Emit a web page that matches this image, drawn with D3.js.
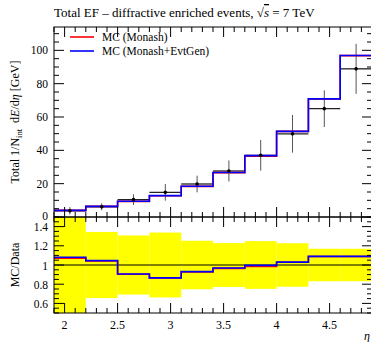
<!DOCTYPE html>
<html>
<head>
<meta charset="utf-8">
<script src="https://cdn.jsdelivr.net/npm/d3@7"></script>
<style>
  body { margin: 0; background: #fff; }
  svg text { font-family: "Liberation Serif", "DejaVu Serif", serif; fill: #000; }
</style>
</head>
<body>
<svg width="371" height="342"></svg>
<script>
// bin edges in eta
var edges = [1.9, 2.2, 2.5, 2.8, 3.1, 3.4, 3.7, 4.0, 4.3, 4.6, 4.9];
// data points and their total error
var dataVals = [3.7, 6.1, 10.4, 14.8, 19.8, 27.6, 37.0, 49.9, 65.0, 88.9];
var dataErr = [2.2, 2.1, 3.2, 5.0, 5.0, 6.3, 9.2, 11.3, 11.0, 15.0];
// MC predictions
var monash = [3.96, 6.36, 9.40, 12.79, 18.39, 26.63, 36.48, 51.35, 70.8, 96.8];
var evtgen = [4.00, 6.38, 9.42, 12.82, 18.43, 26.72, 36.85, 51.40, 70.85, 96.9];

var xTicks = [2, 2.5, 3, 3.5, 4, 4.5];
var yTicks = [0, 20, 40, 60, 80, 100];
var rTicks = [0.6, 0.8, 1, 1.2, 1.4];

var left = 54, right = 372, topY = 27, mid = 217, bottom = 313;

var svg = d3.select('svg');

var x = d3.scaleLinear().domain([1.9, 4.9]).range([left, right]);
var y = d3.scaleLinear().domain([0, 114]).range([mid, topY]);
var r = d3.scaleLinear().domain([0.5, 1.5]).range([bottom, mid]);

svg.append('clipPath').attr('id', 'clipMain')
  .append('rect').attr('x', left).attr('y', topY).attr('width', right - left).attr('height', mid - topY);
svg.append('clipPath').attr('id', 'clipRatio')
  .append('rect').attr('x', left).attr('y', mid).attr('width', right - left).attr('height', bottom - mid);

var bins = dataVals.map((d, i) => ({
  lo: edges[i], hi: edges[i + 1], mid: (edges[i] + edges[i + 1]) / 2,
  val: d, err: dataErr[i], a: monash[i], b: evtgen[i]
}));

//step line through bins
function stepLine(vals, sc) {
  var pts = [];
  vals.forEach((v, i) => {
    pts.push([x(edges[i]), sc(v)]);
    pts.push([x(edges[i + 1]), sc(v)]);
  });
  return d3.line()(pts);
}

// ----- ratio panel -----
var rg = svg.append('g').attr('clip-path', 'url(#clipRatio)');
rg.selectAll('.band')
  .data(bins)
  .enter().append('rect')
    .attr('x', d => x(d.lo))
    .attr('width', d => x(d.hi) - x(d.lo))
    .attr('y', d => r(1 + d.err / d.val))
    .attr('height', d => r(1 - d.err / d.val) - r(1 + d.err / d.val))
    .attr('fill', '#ffff00');
rg.append('line')
  .attr('x1', left).attr('x2', right)
  .attr('y1', r(1)).attr('y2', r(1))
  .attr('stroke', 'black').attr('stroke-width', 1);
rg.append('path')
  .attr('d', stepLine(bins.map(d => d.a / d.val), r))
  .attr('fill', 'none').attr('stroke', '#ff0000').attr('stroke-width', 1.6);
rg.append('path')
  .attr('d', stepLine(bins.map(d => d.b / d.val), r))
  .attr('fill', 'none').attr('stroke', '#0000ff').attr('stroke-width', 1.6);

// ----- main panel -----
var mg = svg.append('g').attr('clip-path', 'url(#clipMain)');
mg.selectAll('.xerr')
  .data(bins)
  .enter().append('line')
    .attr('x1', d => x(d.lo)).attr('x2', d => x(d.hi))
    .attr('y1', d => y(d.val)).attr('y2', d => y(d.val))
    .attr('stroke', '#222').attr('stroke-width', 1.3);
mg.selectAll('.yerr')
  .data(bins)
  .enter().append('line')
    .attr('x1', d => x(d.mid)).attr('x2', d => x(d.mid))
    .attr('y1', d => y(d.val - d.err)).attr('y2', d => y(d.val + d.err))
    .attr('stroke', '#555').attr('stroke-width', 1);
mg.append('path')
  .attr('d', stepLine(monash, y))
  .attr('fill', 'none').attr('stroke', '#ff0000').attr('stroke-width', 1.6);
mg.append('path')
  .attr('d', stepLine(evtgen, y))
  .attr('fill', 'none').attr('stroke', '#0000ff').attr('stroke-width', 1.6);
mg.selectAll('.pt')
  .data(bins)
  .enter().append('circle')
    .attr('cx', d => x(d.mid)).attr('cy', d => y(d.val))
    .attr('r', 1.8).attr('fill', 'black');

// ----- frames and ticks (inward, all sides) -----
function frame(sc, yTop, yBot, majors, minorStep, lo, hi) {
  var g = svg.append('g').attr('stroke', 'black').attr('stroke-width', 1).attr('fill', 'none');
  g.append('rect').attr('x', left).attr('y', yTop).attr('width', right - left).attr('height', yBot - yTop);
  // x ticks
  d3.range(19, 50).map(v => v / 10).forEach(v => {
    var len = (Math.abs(v * 2 - Math.round(v * 2)) < 1e-6) ? 10 : 5;
    var px = x(v);
    g.append('line').attr('x1', px).attr('x2', px).attr('y1', yTop).attr('y2', yTop + len);
    g.append('line').attr('x1', px).attr('x2', px).attr('y1', yBot).attr('y2', yBot - len);
  });
  // y ticks
  var n = Math.round((hi - lo) / minorStep);
  for (var i = 0; i <= n; i++) {
    var v = lo + i * minorStep;
    var isMajor = majors.some(m => Math.abs(m - v) < 1e-6);
    var len = isMajor ? 10 : 5;
    var py = sc(v);
    if (py < yTop - 0.5 || py > yBot + 0.5) continue;
    g.append('line').attr('x1', left).attr('x2', left + len).attr('y1', py).attr('y2', py);
    g.append('line').attr('x1', right).attr('x2', right - len).attr('y1', py).attr('y2', py);
  }
}
frame(y, topY, mid, yTicks, 5, 0, 110);
frame(r, mid, bottom, rTicks, 0.05, 0.5, 1.5);

// tick labels
svg.selectAll('.ylab')
  .data(yTicks)
  .enter().append('text')
    .attr('x', left - 6).attr('y', d => y(d) + (d === 0 ? 2.5 : 4))
    .attr('text-anchor', 'end').attr('font-size', 11.5)
    .text(d => d);
svg.selectAll('.rlab')
  .data(rTicks)
  .enter().append('text')
    .attr('x', left - 6).attr('y', d => r(d) + 4.5)
    .attr('text-anchor', 'end').attr('font-size', 11.5)
    .text(d => d);
svg.selectAll('.xlab')
  .data(xTicks)
  .enter().append('text')
    .attr('x', d => x(d)).attr('y', bottom + 16)
    .attr('text-anchor', 'middle').attr('font-size', 12)
    .text(d => d);

// axis titles
svg.append('text')
  .attr('x', 370).attr('y', 340)
  .attr('text-anchor', 'end').attr('font-size', 12).attr('font-style', 'italic')
  .text('η');

var yl = svg.append('text')
  .attr('transform', 'translate(19,' + (topY + mid) / 2 + ') rotate(-90)')
  .attr('text-anchor', 'middle').attr('font-size', 12);
yl.append('tspan').text('Total 1/N');
yl.append('tspan').attr('font-size', 8.5).attr('dy', 3).text('int');
yl.append('tspan').attr('dy', -3).text('\u2002d');
yl.append('tspan').attr('font-style', 'italic').text('E');
yl.append('tspan').text('/d');
yl.append('tspan').attr('font-style', 'italic').text('η');
yl.append('tspan').text(' [GeV]');

svg.append('text')
  .attr('transform', 'translate(19,' + (mid + bottom) / 2 + ') rotate(-90)')
  .attr('text-anchor', 'middle').attr('font-size', 12)
  .text('MC/Data');

// title
var tt = svg.append('text').attr('x', left).attr('y', 17).attr('font-size', 13);
tt.append('tspan').text('Total EF \u2013 diffractive enriched events, \u221A');
tt.append('tspan').attr('font-style', 'italic').attr('text-decoration', 'overline').text('s');
tt.append('tspan').text(' = 7 TeV');

// legend
var legend = [
  {label: 'MC (Monash)', color: '#ff0000'},
  {label: 'MC (Monash+EvtGen)', color: '#0000ff'}
];
var lg = svg.selectAll('.leg')
  .data(legend)
  .enter().append('g')
    .attr('transform', (d, i) => 'translate(70,' + (37 + i * 14) + ')');
lg.append('line')
  .attr('x1', 0).attr('x2', 24).attr('y1', 0).attr('y2', 0)
  .attr('stroke', d => d.color).attr('stroke-width', 1.6);
lg.append('text')
  .attr('x', 32).attr('y', 4).attr('font-size', 11.5)
  .text(d => d.label);
</script>
</body>
</html>
